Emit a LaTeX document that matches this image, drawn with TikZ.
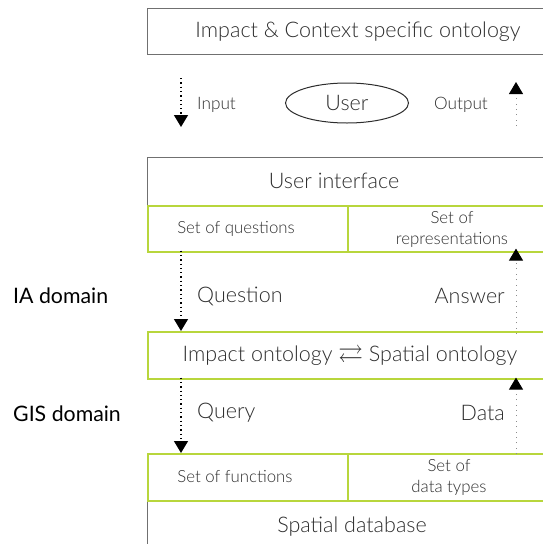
\documentclass[tikz,border=0pt]{standalone}
\usepackage{amssymb}
\usepackage{fontspec}
\setmainfont{Lato}
\newfontfamily\lightfont{Lato Light}
\usetikzlibrary{arrows.meta,shapes.geometric}
\definecolor{boxgray}{RGB}{112,112,112}
\definecolor{lime}{RGB}{184,214,60}
\definecolor{ink}{RGB}{45,45,45}
\definecolor{dotgray}{RGB}{140,140,140}

\begin{document}
\begin{tikzpicture}[x=1pt,y=-1pt,
  graybox/.style={draw=boxgray, line width=1.2pt, anchor=north west, inner sep=0pt},
  greenbox/.style={draw=lime, line width=1.6pt, anchor=north west, inner sep=0pt},
  big/.style={font=\lightfont\fontsize{21.5}{24}\selectfont, text=ink, inner sep=0pt},
  small/.style={font=\lightfont\fontsize{16.8}{21}\selectfont, text=ink, align=center, inner sep=0pt},
  mid/.style={font=\lightfont\fontsize{17.2}{20}\selectfont, text=ink, inner sep=0pt},
  side/.style={font=\fontsize{21.3}{24}\selectfont, text=black, anchor=west, inner sep=0pt},
  flowdown/.style={line width=1.3pt, dash pattern=on 1.3pt off 3pt,
    -{Triangle[width=14pt,length=12pt]}},
  flowup/.style={draw=dotgray, line width=0.9pt, dash pattern=on 0.9pt off 4.5pt,
    -{Triangle[width=14pt,length=12pt,black]}}]
\useasboundingbox (0,0) rectangle (542,544);

% layers
\node[graybox, minimum width=420, minimum height=46] (ctx) at (147,8) {};
\node[graybox, minimum width=420, minimum height=48] (ui) at (147,157) {};
\node[graybox, minimum width=420, minimum height=60] (db) at (147,500) {};
\node[greenbox, minimum width=200, minimum height=46] (qs) at (147,205) {};
\node[greenbox, minimum width=220, minimum height=46] (reps) at (347,205) {};
\node[greenbox, minimum width=420, minimum height=47] (onto) at (147,331) {};
\node[greenbox, minimum width=200, minimum height=47] (funcs) at (147,453) {};
\node[greenbox, minimum width=220, minimum height=47] (types) at (347,453) {};

% layer captions
\node[big] (ctxt) at (358,32) {Impact \& Context specific ontology};
\node[big] (uit) at (334,181) {User interface};
\node[small] (qst) at (236,229) {Set of questions};
\node[small] (repst) at (452,229) {Set of\\representations};
\node[big] (ontot) at (350,356) {Impact ontology \raisebox{-1pt}{\scalebox{1.15}[1.2]{$\rightleftarrows$}} Spatial ontology};
\node[small] (funcst) at (235,477) {Set of functions};
\node[small] (typest) at (449,477) {Set of\\data types};
\node[big] (dbt) at (352,527) {Spatial database};

% user
\node[ellipse, draw=ink, line width=1pt, minimum width=123, minimum height=40,
  inner sep=0pt, font=\lightfont\fontsize{21.5}{24}\selectfont, text=ink] (user) at (347,103) {User};
\node[mid, anchor=west] (inl) at (197,105) {Input};
\node[mid, anchor=east] (outl) at (488,105) {Output};

% flow columns
\coordinate (lx) at (181,0);
\coordinate (rx) at (516,0);
\coordinate (in1) at (181,78);
\coordinate (in2) at (181,127);
\coordinate (out1) at (516,126);
\coordinate (out2) at (516,82);

\draw[flowdown] (in1) -- (in2);
\draw[flowup] (out1) -- (out2);
\draw[flowdown] ([yshift=2pt]qs.south -| lx) -- (onto.north -| lx);
\draw[flowup] ([yshift=-3pt]onto.north -| rx) -- ([yshift=4pt]reps.south -| rx);
\draw[flowdown] ([yshift=2pt]onto.south -| lx) -- (funcs.north -| lx);
\draw[flowup] ([yshift=-1pt]types.north -| rx) -- ([yshift=2pt]onto.south -| rx);

% flow labels
\node[big, anchor=west] (ql) at (197,296) {Question};
\node[big, anchor=east] (al) at (505,296) {Answer};
\node[big, anchor=west] (yl) at (197,413) {Query};
\node[big, anchor=east] (dl) at (505,413) {Data};

% domains
\node[side] (ia) at (13,296) {IA domain};
\node[side] (gis) at (13,414) {GIS domain};
\end{tikzpicture}
\end{document}
